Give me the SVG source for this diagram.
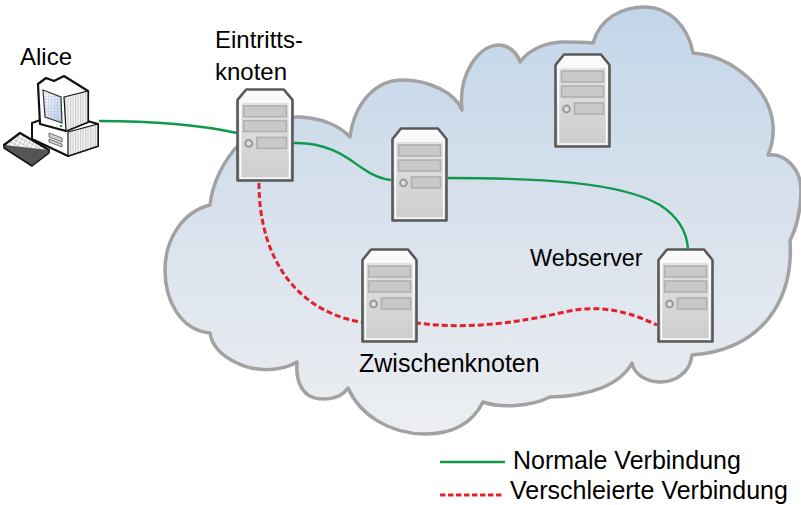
<svg xmlns="http://www.w3.org/2000/svg" xmlns:xlink="http://www.w3.org/1999/xlink" width="801" height="505" viewBox="0 0 801 505">
  <defs>
    <linearGradient id="cloudFill" gradientUnits="userSpaceOnUse" x1="0" y1="7" x2="0" y2="434">
      <stop offset="0" stop-color="#c2d6e9"/>
      <stop offset="0.55" stop-color="#dbe3ed"/>
      <stop offset="1" stop-color="#eceef1"/>
    </linearGradient>
    <linearGradient id="srvBody" x1="0" y1="0" x2="0" y2="1">
      <stop offset="0" stop-color="#fdfdfd"/>
      <stop offset="1" stop-color="#d2d2d2"/>
    </linearGradient>
    <linearGradient id="srvPanel" x1="0" y1="0" x2="0" y2="1">
      <stop offset="0" stop-color="#e4e4e4"/>
      <stop offset="1" stop-color="#cdcdcd"/>
    </linearGradient>
    <linearGradient id="screen" x1="0" y1="0" x2="1" y2="1">
      <stop offset="0" stop-color="#ffffff"/>
      <stop offset="1" stop-color="#b9cce6"/>
    </linearGradient>
    <pattern id="grid" width="3" height="3" patternUnits="userSpaceOnUse">
      <path d="M0,0 H3 M0,0 V3" stroke="#9fb3d0" stroke-width="0.6" fill="none"/>
    </pattern>
    <pattern id="stripes" width="2.5" height="4" patternUnits="userSpaceOnUse">
      <rect width="2.5" height="4" fill="#f4f4f4"/>
      <path d="M0.6,0 V4" stroke="#b8b8b8" stroke-width="0.8"/>
    </pattern>
    <pattern id="keys" width="4" height="4" patternUnits="userSpaceOnUse" patternTransform="rotate(28)">
      <rect width="4" height="4" fill="#f7f7f7"/>
      <path d="M0,0 H4 M0,0 V4" stroke="#888" stroke-width="0.7" fill="none"/>
    </pattern>
    <!-- tower server icon -->
    <symbol id="srv" viewBox="0 0 57 95" preserveAspectRatio="none">
      <path d="M1.5,12 L10,1.5 H47 L55.5,12 V93.5 H1.5 Z" fill="url(#srvBody)" stroke="#595959" stroke-width="2.6" stroke-linejoin="round"/>
      <rect x="4.5" y="14" width="48" height="77" fill="url(#srvPanel)" stroke="#ffffff" stroke-width="1.4"/>
      <rect class="bay" x="7.5" y="18" width="42" height="11"/>
      <rect class="bay" x="7.5" y="33" width="42" height="11"/>
      <rect class="bay" x="20.5" y="50" width="29" height="11"/>
      <circle cx="12.5" cy="56" r="3.4" fill="#dedede" stroke="#9a9a9a" stroke-width="2"/>
    </symbol>
  </defs>
  <style>
    .bay { fill: #c9c9c9; stroke: #b0b0b0; stroke-width: 1.6; }
    .label { font-family: "Liberation Sans", Arial, sans-serif; font-size: 24px; fill: #000000; }
    .normal { fill: none; stroke: #10994a; stroke-width: 2.4; }
    .hidden { fill: none; stroke: #e3202b; stroke-width: 3; stroke-dasharray: 6 3; }
  </style>

  <rect width="801" height="505" fill="#ffffff"/>

  <!-- network cloud -->
  <path id="cloud" d="M210,205 C215,160 255,115 300,117 C322,118 340,126 350,137 C355,100 378,80 402,80 C430,80 455,93 462,110 C458,75 478,46 498,45 C508,45 517,52 520,62 C530,48 548,42 565,42 C578,42 588,42 593,43 C600,18 622,7 645,7 C668,7 688,25 693,53 C732,56 770,88 773,125 C774,138 771,148 768,155 C786,153 801,170 801,190 C801,210 796,230 790,240 C794,300 762,350 692,355 C690,374 674,382 660,382 C646,382 634,374 632,363 C620,385 590,396 550,397 C530,407 500,408 483,402 C470,428 447,434 425,434 C390,434 360,415 348,388 C340,400 320,402 308,395 C299,388 296,375 297,362 C280,372 255,372 237,363 C222,356 212,346 210,333 C180,330 165,300 165,270 C165,240 182,212 210,205 Z" fill="url(#cloudFill)" stroke="#a2a2a2" stroke-width="3.5" stroke-linejoin="round"/>

  <!-- connections -->
  <g id="connectors">
    <path class="normal" d="M99,121 C160,121 205,126 237,133"/>
    <path class="normal" d="M294,143 C330,142 350,160 362,168 C372,175 380,179 391,180"/>
    <path class="normal" d="M448,178 C540,178 620,182 660,205 C680,218 687,233 688,249"/>
    <path class="hidden" d="M259,183 C259,262 300,312 361,322 C380,325 400,323 417,323 C470,330 520,322 560,313 C590,306 617,306 657,325"/>
  </g>

  <!-- Alice workstation -->
  <g id="alice">
    <text class="label" x="20" y="65">Alice</text>
    <!-- keyboard -->
    <path d="M4,145 L20,133 L49,150 L32,163 Z" fill="url(#keys)" stroke="#111" stroke-width="2.2" stroke-linejoin="round"/>
    <path d="M4,145 L4,148 L32,166 L49,153 L49,150" fill="#555" stroke="#111" stroke-width="1.5" stroke-linejoin="round"/>
    <!-- base unit -->
    <path d="M32,123 L60,113 L98,124 L98,146 L68,156 L32,139 Z" fill="#ffffff" stroke="#111" stroke-width="2" stroke-linejoin="round"/>
    <path d="M68,132 L98,124 L98,146 L68,156 Z" fill="url(#stripes)" stroke="#111" stroke-width="1.2"/>
    <path d="M49,133 L62,138 L62,142 L49,137 Z M49,139 L62,144 L62,147 L49,142 Z" fill="#cfcfcf" stroke="#555" stroke-width="0.8"/>
    <!-- monitor -->
    <path d="M38,84 L46,78 L54,81 L64,76 L88,91 L88,122 L66,131 L40,124 Z" fill="#ffffff" stroke="#111" stroke-width="2.2" stroke-linejoin="round"/>
    <path d="M64,97 L88,91 L88,122 L66,131 Z" fill="url(#stripes)" stroke="#111" stroke-width="1.2"/>
    <path d="M43,90 L61,97 L62,123 L45,117 Z" fill="url(#screen)"/>
    <path d="M43,90 L61,97 L62,123 L45,117 Z" fill="url(#grid)" stroke="#333" stroke-width="1.2"/>
    <circle cx="61" cy="126" r="1.2" fill="#2b8a3e"/>
  </g>

  <!-- servers -->
  <g id="entry-node">
    <use xlink:href="#srv" x="236" y="88" width="58" height="94"/>
    <text class="label" x="215" y="48">Eintritts-</text>
    <text class="label" x="215" y="80">knoten</text>
  </g>
  <g id="relay-middle">
    <use xlink:href="#srv" x="391" y="127" width="57" height="95"/>
  </g>
  <g id="relay-top">
    <use xlink:href="#srv" x="554" y="53" width="57" height="95"/>
  </g>
  <g id="middle-node">
    <use xlink:href="#srv" x="361" y="248" width="57" height="95"/>
    <text class="label" x="359" y="372" style="font-size:25px">Zwischenknoten</text>
  </g>
  <g id="webserver">
    <use xlink:href="#srv" x="657" y="248" width="57" height="95"/>
    <text class="label" x="530" y="266" style="font-size:23.4px">Webserver</text>
  </g>

  <!-- legend -->
  <g id="legend">
    <line class="normal" x1="440" y1="462" x2="505" y2="462"/>
    <line x1="440" y1="495" x2="504" y2="495" stroke="#e3202b" stroke-width="3" stroke-dasharray="5.5 2.5"/>
    <text class="label" x="513" y="469" style="font-size:25px" transform="translate(0,469) scale(1,1.05) translate(0,-469)">Normale Verbindung</text>
    <text class="label" x="510" y="499" style="font-size:25px" transform="translate(0,499) scale(1,1.05) translate(0,-499)">Verschleierte Verbindung</text>
  </g>
</svg>
